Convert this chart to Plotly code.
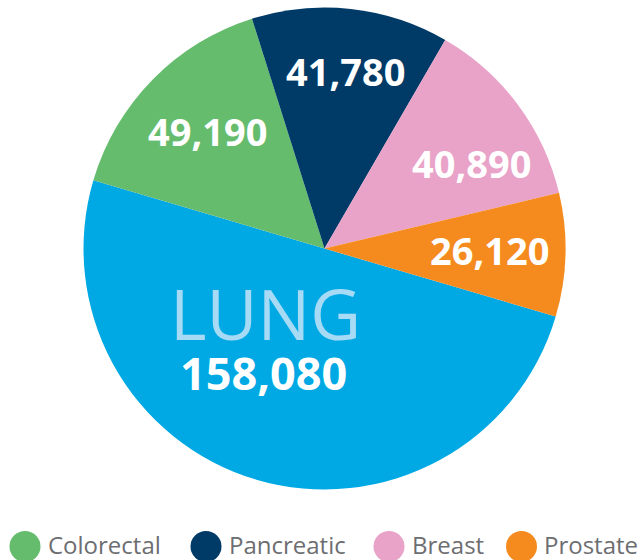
import plotly.graph_objects as go

W, H = 641, 560

labels = ["Lung", "Colorectal", "Pancreatic", "Breast", "Prostate"]
values = [158080, 49190, 41780, 40890, 26120]
colors = ["#00a9e4", "#66bc6d", "#003a67", "#e9a2c8", "#f58b1f"]
legend_labels = ["Colorectal", "Pancreatic", "Breast", "Prostate"]

# pixel helpers (layout only)
def px(x):
    return x / W

def py(y):
    return 1 - y / H

cx, cy, r = 324.5, 248.5, 241

fig = go.Figure()
fig.add_trace(go.Pie(
    labels=labels,
    values=values,
    marker=dict(colors=colors, line=dict(width=0)),
    sort=False,
    direction="clockwise",
    rotation=106.4,
    textinfo="none",
    showlegend=False,
    hoverinfo="skip",
    domain=dict(x=[px(cx - r), px(cx + r)], y=[py(cy + r), py(cy - r)]),
))

# value labels positioned inside slices
label_pos = {
    "Colorectal": (207, 131, 38, None),
    "Pancreatic": (345, 71, 38, None),
    "Breast": (471, 163, 38, None),
    "Prostate": (489, 250, 38, None),
    "Lung": (263, 372, 45, 50),
}
annotations = []
for lab, val in zip(labels, values):
    x, y, fs, hgt = label_pos[lab]
    annotations.append(dict(
        x=px(x), y=py(y), xref="paper", yref="paper",
        text=f"<b>{val:,}</b>", showarrow=False,
        xanchor="center", yanchor="middle", height=hgt,
        font=dict(family="Open Sans", size=fs, color="white"),
    ))
annotations.append(dict(
    x=px(265), y=py(313), xref="paper", yref="paper",
    text=labels[0].upper(), showarrow=False,
    xanchor="center", yanchor="middle", height=66,
    font=dict(family="Open Sans", size=70, color="#a6daf5"),
))

# custom legend (circle swatches + text)
leg_cx = [25, 206, 389, 521.5]
leg_cy = 546.5
leg_r = 15.5
shapes = []
for lab, xc in zip(legend_labels, leg_cx):
    col = colors[labels.index(lab)]
    shapes.append(dict(
        type="circle", xref="paper", yref="paper",
        x0=px(xc - leg_r), x1=px(xc + leg_r),
        y0=py(leg_cy + leg_r), y1=py(leg_cy - leg_r),
        fillcolor=col, line=dict(width=0),
    ))
    annotations.append(dict(
        x=px(xc + leg_r + 5), y=py(544), xref="paper", yref="paper",
        text=lab, showarrow=False, xanchor="left", yanchor="middle",
        font=dict(family="Open Sans", size=24, color="#6d6e71"),
    ))

fig.update_layout(
    width=W, height=H,
    margin=dict(l=0, r=0, t=0, b=0),
    paper_bgcolor="white", plot_bgcolor="white",
    annotations=annotations,
    shapes=shapes,
)

fig.write_html(
    "out.html",
    config={"displayModeBar": False},
    post_script="document.body.style.margin='0';document.body.style.overflow='hidden';",
)
